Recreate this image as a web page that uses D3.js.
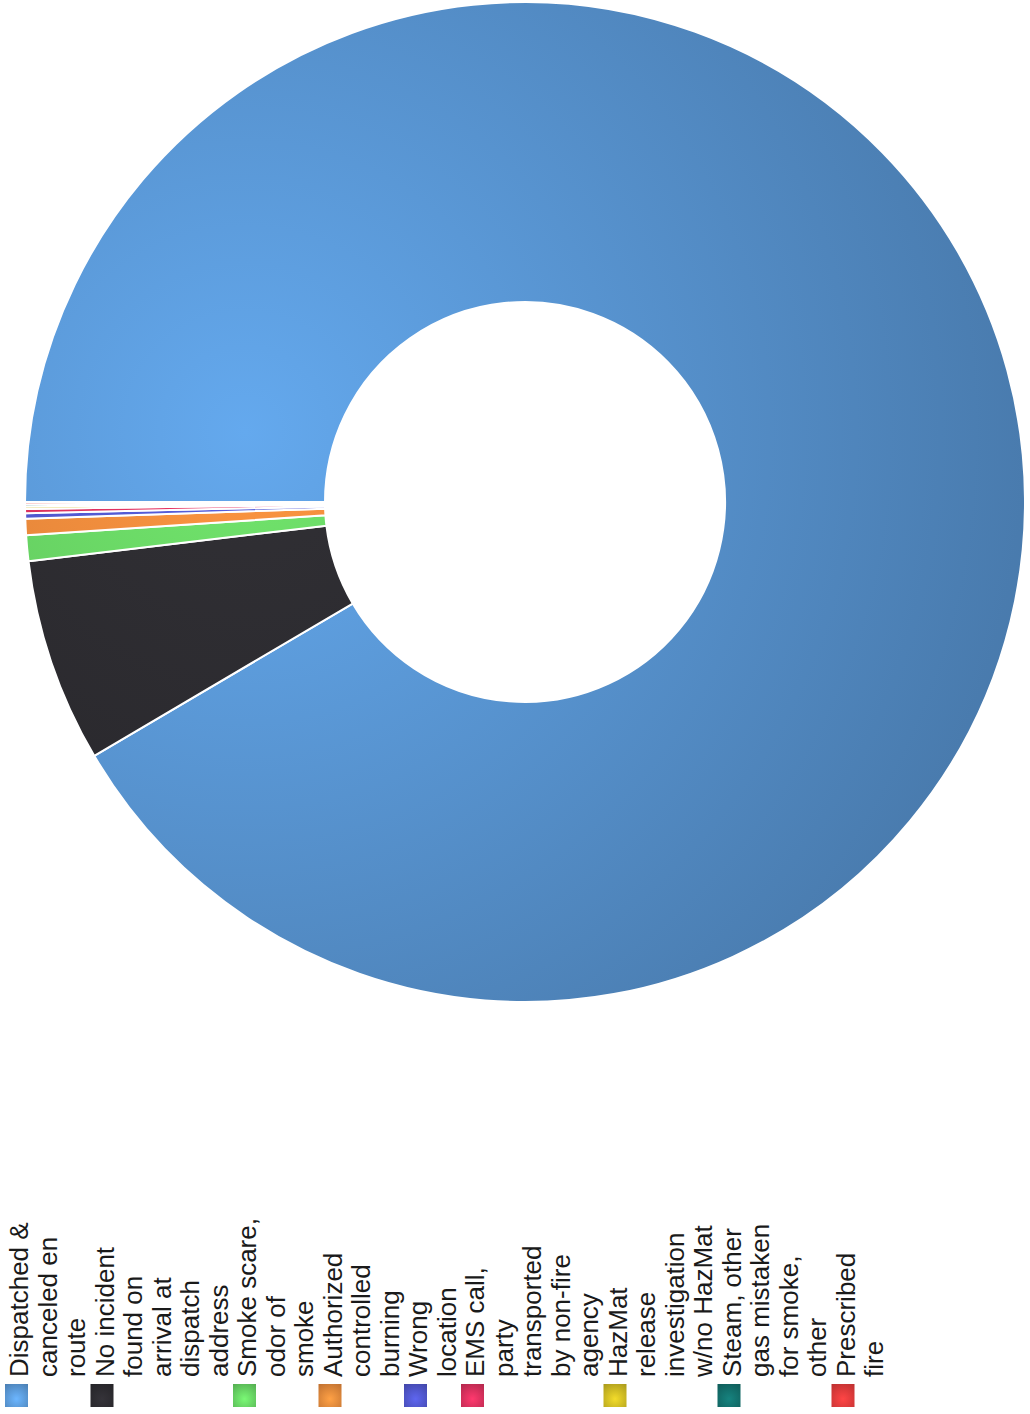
<!DOCTYPE html>
<html>
<head>
<meta charset="utf-8">
<script src="https://cdn.jsdelivr.net/npm/d3@7"></script>
<style>
    body { margin: 0; background: #ffffff; }
    svg { display: block; }
    .legend-item text { font-family: "Liberation Sans", Arial, sans-serif; font-size: 26px; fill: #1a1a1a; }
</style>
</head>
<body>
<div id="chart-area"></div>
<script>
const categories = [
    "Dispatched & canceled en route",
    "No incident found on arrival at dispatch address",
    "Smoke scare, odor of smoke",
    "Authorized controlled burning",
    "Wrong location",
    "EMS call, party transported by non-fire agency",
    "HazMat release investigation w/no HazMat",
    "Steam, other gas mistaken for smoke, other",
    "Prescribed fire"
];
const values = [91.47, 6.58, 0.83, 0.53, 0.17, 0.14, 0.08, 0.07, 0.07];
const colors = ["#5a98d6", "#2c2b30", "#66d062", "#e5873a", "#4f55c9", "#d6305c", "#cbb823", "#126e6a", "#e23a3a"];

const width = 1030, height = 1414;
const cx = 525, cy = 502;
const outerR = 500, innerR = 200;
const lineHeight = 28.5;
const wrapWidth = 163;

let svg = d3.select("#chart-area")
    .append("svg")
    .attr("width", width)
    .attr("height", height);

let defs = svg.append("defs");

// radial gradients, light spot on the inner left like the original
colors.forEach((c, i) => {
    let g = defs.append("radialGradient")
        .attr("id", "slice-grad-" + i)
        .attr("gradientUnits", "userSpaceOnUse")
        .attr("cx", -280).attr("cy", -70).attr("r", 900);
    g.append("stop").attr("offset", "0%").attr("stop-color", d3.color(c).brighter(0.3));
    g.append("stop").attr("offset", "100%").attr("stop-color", d3.color(c).darker(0.75));

    let lg = defs.append("radialGradient")
        .attr("id", "legend-grad-" + i)
        .attr("cx", 0.35).attr("cy", 0.5).attr("r", 0.8);
    lg.append("stop").attr("offset", "0%").attr("stop-color", d3.color(c).brighter(0.5));
    lg.append("stop").attr("offset", "100%").attr("stop-color", d3.color(c).darker(0.5));
});

let pie = d3.pie()
    .sort(null)
    .value(d => d)
    .startAngle(-Math.PI / 2)
    .endAngle(Math.PI * 1.5);

let arc = d3.arc()
    .innerRadius(innerR)
    .outerRadius(outerR);

let chart = svg.append("g")
    .attr("transform", `translate(${cx}, ${cy})`);

chart.selectAll("path")
    .data(pie(values))
    .enter()
    .append("path")
    .attr("d", arc)
    .attr("fill", (d, i) => `url(#slice-grad-${i})`)
    .attr("stroke", "#ffffff")
    .attr("stroke-width", 2)
    .attr("stroke-linejoin", "round");

// legend: items laid out left to right, text turned to read bottom-up
let legend = svg.append("g").attr("class", "legend");
let cursor = 5;

categories.forEach((label, i) => {
    let item = legend.append("g")
        .attr("class", "legend-item")
        .attr("transform", `translate(${cursor}, 1407) rotate(-90)`);

    item.append("rect")
        .attr("x", 0)
        .attr("y", 0)
        .attr("width", 23)
        .attr("height", 23)
        .attr("fill", `url(#legend-grad-${i})`);

    let text = item.append("text")
        .attr("x", 30)
        .attr("y", 23);

    let words = label.split(" ");
    let line = [];
    let lineNo = 0;
    let tspan = text.append("tspan").attr("x", 30).attr("y", 23);
    words.forEach(w => {
        line.push(w);
        tspan.text(line.join(" "));
        if (tspan.node().getComputedTextLength() > wrapWidth && line.length > 1) {
            line.pop();
            tspan.text(line.join(" "));
            line = [w];
            lineNo++;
            tspan = text.append("tspan")
                .attr("x", 30)
                .attr("y", 23 + lineNo * lineHeight)
                .text(w);
        }
    });

    cursor += (lineNo + 1) * lineHeight;
});
</script>
</body>
</html>
